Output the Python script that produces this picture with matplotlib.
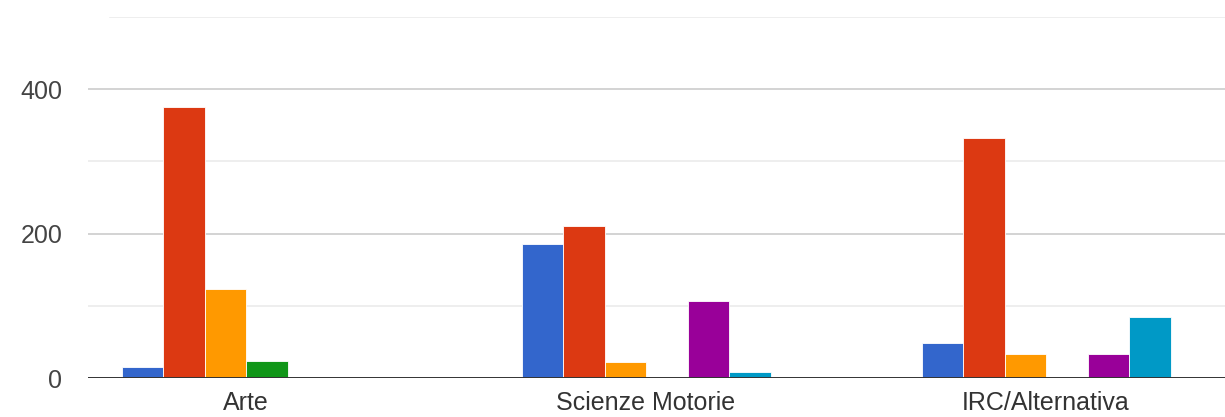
import matplotlib
matplotlib.use("Agg")
import matplotlib.pyplot as plt
import numpy as np

categories = ["Arte", "Scienze Motorie", "IRC/Alternativa"]
series_blue = [15, 185, 49]
series_red = [376, 211, 333]
series_orange = [123, 22, 33]
series_green = [23, 0, 0]
series_purple = [0, 106, 33]
series_teal = [0, 9, 85]
y_ticks = [0, 200, 400]

colors = ["#3366cc", "#dc3912", "#ff9900", "#109618", "#990099", "#0099c6"]
series = [series_blue, series_red, series_orange, series_green, series_purple, series_teal]

plt.rcParams['font.family'] = ['Liberation Sans', 'DejaVu Sans']

W, H = 1225, 417
fig = plt.figure(figsize=(W / 100, H / 100), dpi=100)
ax_left, ax_right = 88, 1225
ax_top, ax_bottom = 17, 378
ax = fig.add_axes([ax_left / W, (H - ax_bottom) / H, (ax_right - ax_left) / W, (ax_bottom - ax_top) / H])

x = np.arange(len(categories))
spacing_px = 400.0
first_center_px = 246.0
xmin = (ax_left - first_center_px) / spacing_px
xmax = (ax_right - first_center_px) / spacing_px
ax.set_xlim(xmin, xmax)
ax.set_ylim(0, 500)

bw = 41.5 / spacing_px
n = len(series)
for i, (vals, c) in enumerate(zip(series, colors)):
    offs = (i - (n - 1) / 2) * bw
    ax.bar(x + offs, vals, width=bw, color=c, edgecolor="white", linewidth=0.6, zorder=3)

# grid lines
for v in [100, 300]:
    ax.axhline(v, color="#ebebeb", linewidth=1.2, zorder=1)
for v in [200, 400]:
    ax.axhline(v, color="#cccccc", linewidth=1.2, zorder=1)
ax.axhline(500, xmin=(110 - ax_left) / (ax_right - ax_left), color="#ebebeb", linewidth=1.2, zorder=1)
ax.axhline(0, color="#333333", linewidth=1.4, zorder=4)

for s in ax.spines.values():
    s.set_visible(False)

fs = 25 * 72 / 100
ax.set_yticks(y_ticks)
ax.set_yticklabels([str(t) for t in y_ticks])
ax.set_xticks(x)
ax.set_xticklabels(categories)
ax.tick_params(axis="y", length=0, pad=18.5, labelsize=fs, labelcolor="#444444")
ax.tick_params(axis="x", length=0, pad=9, labelsize=fs, labelcolor="#333333")

fig.savefig("out.png", dpi=100, facecolor="white")
